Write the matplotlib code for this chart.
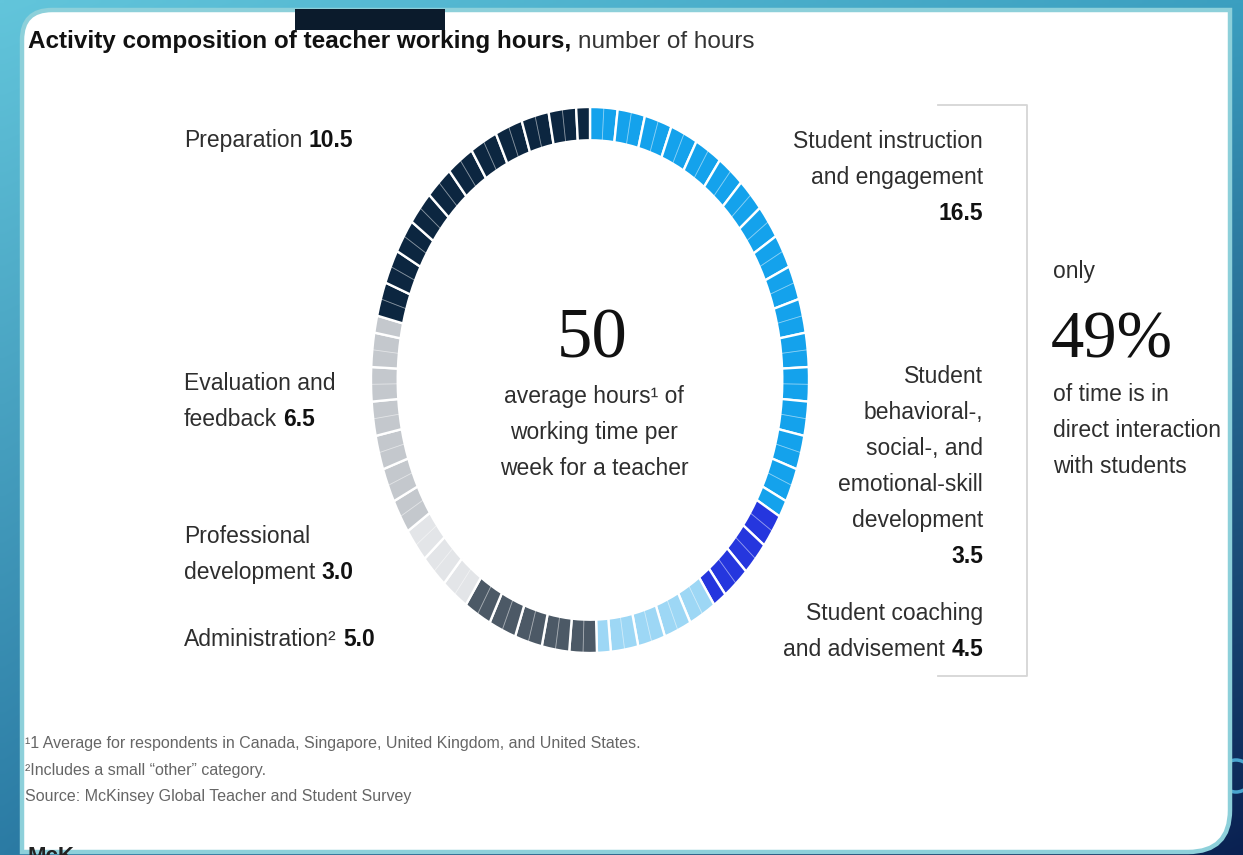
import numpy as np
import matplotlib
matplotlib.use("Agg")
import matplotlib.pyplot as plt
from matplotlib.path import Path
from matplotlib.patches import PathPatch, Rectangle, Circle
from matplotlib.colors import to_rgb

# ---------------- data ----------------
categories = ["Student instruction and engagement",
              "Student behavioral-, social-, and emotional-skill development",
              "Student coaching and advisement",
              "Administration",
              "Professional development",
              "Evaluation and feedback",
              "Preparation"]
hours = [16.5, 3.5, 4.5, 5.0, 3.0, 6.5, 10.5]
seg_colors = ["#14a2ec", "#2536de", "#9dd7f5", "#4c5966", "#e3e5e8", "#c4c8cd", "#0c2640"]

total_hours = "50"
direct_share = "49%"

title_bold = "Activity composition of teacher working hours,"
title_reg = "number of hours"

left_labels = [  # (lines, bold value)
    (["Preparation"], "10.5"),
    (["Evaluation and", "feedback"], "6.5"),
    (["Professional", "development"], "3.0"),
    (["Administration\u00b2"], "5.0"),
]
right_labels = [
    (["Student instruction", "and engagement", ""], "16.5"),
    (["Student", "behavioral-,", "social-, and", "emotional-skill", "development", ""], "3.5"),
    (["Student coaching", "and advisement"], "4.5"),
]
center_lines = ["average hours\u00b9 of", "working time per", "week for a teacher"]
side_lines = ["of time is in", "direct interaction", "with students"]
footnotes = ["\u00b91 Average for respondents in Canada, Singapore, United Kingdom, and United States.",
             "\u00b2Includes a small \u201cother\u201d category.",
             "Source: McKinsey Global Teacher and Student Survey"]

SANS = ["Liberation Sans", "DejaVu Sans"]
SERIF = ["Liberation Serif", "DejaVu Serif"]

W, H = 1243, 855
fig = plt.figure(figsize=(W / 100, H / 100), dpi=100)
ax = fig.add_axes([0, 0, 1, 1])
ax.set_xlim(0, W)
ax.set_ylim(H, 0)
ax.axis("off")

# background gradient
tl, tr, bl, br = [np.array(to_rgb(c)) for c in ("#62c5db", "#3b9fc0", "#2b7ba4", "#0a2152")]
gy, gx = np.mgrid[0:1:120j, 0:1:160j]
grad = (tl * ((1 - gx) * (1 - gy))[..., None] + tr * (gx * (1 - gy))[..., None]
        + bl * ((1 - gx) * gy)[..., None] + br * (gx * gy)[..., None])
ax.imshow(grad, extent=[0, W, H, 0], aspect="auto", zorder=0, interpolation="bilinear")

# small circle at right edge
ax.add_patch(Circle((1236, 776), 16, facecolor="none", edgecolor="#4aa6cf", lw=2.5, zorder=1))

# card with two rounded corners
x0, y0, x1, y1 = 22, 10, 1230, 852
r1, r2 = 30, 42
verts = [(x0 + r1, y0), (x1, y0), (x1, y1 - r2), (x1, y1), (x1 - r2, y1),
         (x0, y1), (x0, y0 + r1), (x0, y0), (x0 + r1, y0), (x0 + r1, y0)]
codes = [Path.MOVETO, Path.LINETO, Path.LINETO, Path.CURVE3, Path.CURVE3,
         Path.LINETO, Path.LINETO, Path.CURVE3, Path.CURVE3, Path.CLOSEPOLY]
ax.add_patch(PathPatch(Path(verts, codes), facecolor="white", edgecolor="#8dd0da", lw=3.2, zorder=2))

# black redaction box
ax.add_patch(Rectangle((295, 9), 150, 21, facecolor="#0b1b2c", edgecolor="none", zorder=3))

renderer = fig.canvas.get_renderer()


def rich(x, y, parts, ha="left", size=16.5, fam=SANS):
    arts = []
    for s, bold, col in parts:
        arts.append(ax.text(x, y, s, fontsize=size, fontweight="bold" if bold else "normal",
                            color=col, ha="left", va="baseline", family=fam, zorder=4))
    widths = [a.get_window_extent(renderer=renderer).width if a.get_text() else 0 for a in arts]
    gap = 0.278 * size * 100 / 72
    total = sum(widths) + gap * (len([w for w in widths if w > 0]) - 1)
    if ha == "right":
        cur = x - total
    elif ha == "center":
        cur = x - total / 2
    else:
        cur = x
    for a, w in zip(arts, widths):
        a.set_x(cur)
        if w > 0:
            cur += w + gap


LAB = "#2e2e2e"
VAL = "#111111"

# title
rich(28, 48, [(title_bold, True, "#111111"), (title_reg, False, "#333333")], size=17.5)
ax.text(28, 862, "McK", fontsize=16, fontweight="bold", color="#222222", family=SANS,
        va="baseline", zorder=4)

# left labels
left_y = [147, 390, 543, 646]
for (lines, val), yb in zip(left_labels, left_y):
    for i, ln in enumerate(lines):
        y = yb + 36 * i
        if i == len(lines) - 1:
            rich(184, y, [(ln, False, LAB), (val, True, VAL)])
        else:
            rich(184, y, [(ln, False, LAB)])

# right labels
right_y = [148, 383, 620]
for (lines, val), yb in zip(right_labels, right_y):
    for i, ln in enumerate(lines):
        y = yb + 36 * i
        if i == len(lines) - 1:
            rich(983, y, [(ln, False, LAB), (val, True, VAL)], ha="right")
        else:
            rich(983, y, [(ln, False, LAB)], ha="right")

# bracket
ax.plot([938, 1027, 1027, 938], [105, 105, 676, 676], color="#d6d6d6", lw=1.3, zorder=3)

# centre text
ax.text(592, 357, total_hours, fontsize=51, family=SERIF, color="#111111",
        ha="center", va="baseline", zorder=4)
for i, ln in enumerate(center_lines):
    ax.text(594, 403 + 36 * i, ln, fontsize=16.5, family=SANS, color=LAB,
            ha="center", va="baseline", zorder=4)

# side callout
ax.text(1053, 278, "only", fontsize=16.5, family=SANS, color=LAB, va="baseline", zorder=4)
ax.text(1051, 357, direct_share, fontsize=48, family=SERIF, color="#111111", va="baseline", zorder=4)
for i, ln in enumerate(side_lines):
    ax.text(1053, 401 + 36 * i, ln, fontsize=16.5, family=SANS, color=LAB, va="baseline", zorder=4)

# footnotes
for i, ln in enumerate(footnotes):
    ax.text(25, 748 + 26.5 * i, ln, fontsize=11.5, family=SANS, color="#666666",
            va="baseline", zorder=4)

# ---------------- donut ----------------
cx, cy, rx, ry = 590, 380, 219, 273
aw, ah = 2.5 * rx, 2.5 * ry
axd = fig.add_axes([(cx - aw / 2) / W, (H - cy - ah / 2) / H, aw / W, ah / H])
axd.patch.set_alpha(0)

cell_sizes, cell_cols, half_sizes, half_cols = [], [], [], []
for v, c in zip(hours, seg_colors):
    whole = int(v)
    cell_sizes += [1.0] * whole
    cell_cols += [c] * whole
    if v - whole > 0:
        cell_sizes.append(v - whole)
        cell_cols.append(c)
    n_half = int(round(v / 0.5))
    half_sizes += [0.5] * n_half
    half_cols += ["none"] * n_half

RING = 0.122
axd.pie(cell_sizes, colors=cell_cols, startangle=90, counterclock=False, radius=1,
        wedgeprops=dict(width=RING, edgecolor="white", linewidth=1.7))
axd.pie(half_sizes, colors=half_cols, startangle=90, counterclock=False, radius=1,
        wedgeprops=dict(width=RING, edgecolor=(1, 1, 1, 0.3), linewidth=0.6))
axd.set_aspect("auto")
axd.set_xlim(-1.25, 1.25)
axd.set_ylim(-1.25, 1.25)
axd.axis("off")

fig.savefig("out.png", dpi=100)
